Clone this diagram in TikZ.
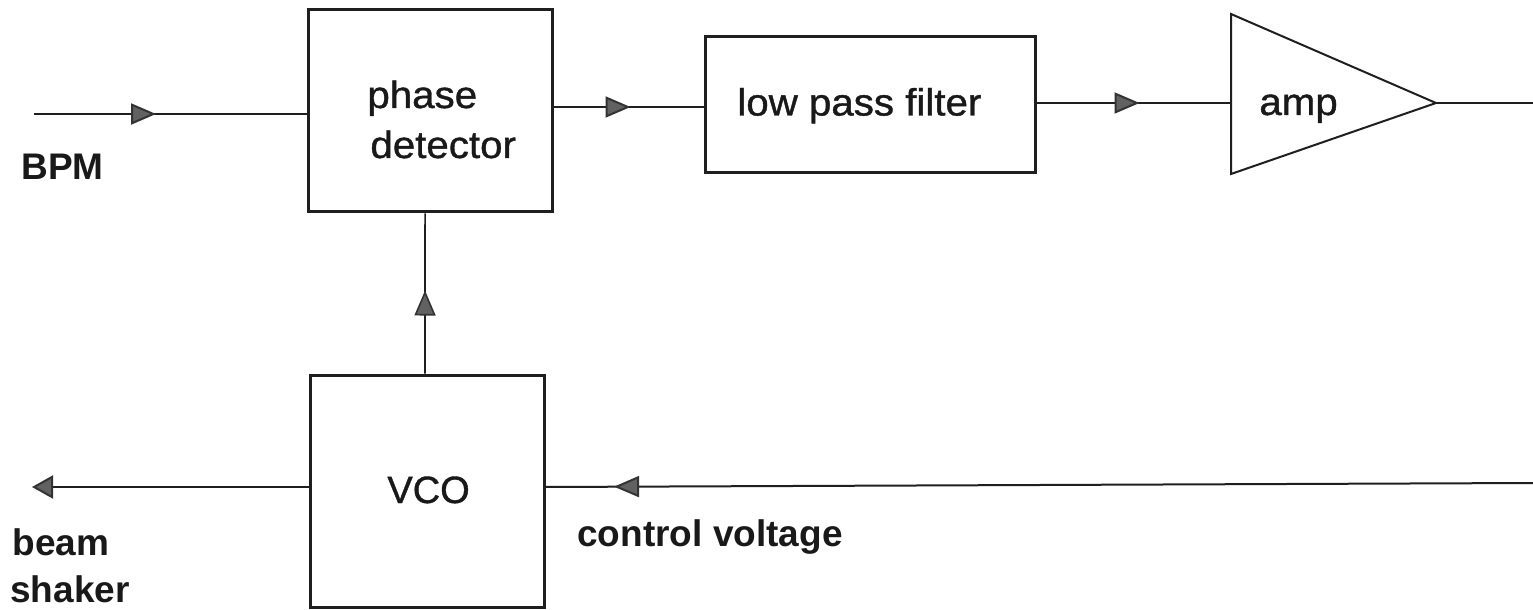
\documentclass[tikz,border=0pt]{standalone}
\usepackage{fontspec}
\setmainfont{Liberation Sans}
\newfontfamily\wfont[FakeStretch=1.06,FakeBold=1]{Liberation Sans}
\newfontfamily\cfont[FakeBold=1]{Liberation Sans}
\usetikzlibrary{arrows.meta,decorations.markings}
\tikzset{
  box/.style={draw=black!88,line width=1.5pt,inner sep=0pt},
  conn/.style={draw=black!88,line width=1pt},
  tritip/.tip={Triangle[length=12.5pt,width=10.5pt,color=black!80,fill=black!62]},
  endtip/.tip={Triangle[length=10.5pt,width=11.5pt,color=black!80,fill=black!62]},
  midarrow/.style={postaction={decorate},decoration={markings,mark=at position #1 with {\arrow{tritip}}}},
  intxt/.style={anchor=base west,inner sep=0pt,font=\wfont\fontsize{19pt}{23pt}\selectfont,text=black!90},
  captxt/.style={anchor=base west,inner sep=0pt,font=\cfont\fontsize{19pt}{23pt}\selectfont,text=black!90},
  extxt/.style={anchor=base west,inner sep=0pt,font=\bfseries\fontsize{18.5pt}{23pt}\selectfont,text=black!90}
}
\begin{document}
\begin{tikzpicture}[x=0.5pt,y=-0.5pt]
\useasboundingbox[fill=white] (0,0) rectangle (1533,610);
% boxes
\node[box,minimum width=121.75pt,minimum height=101pt] (pd) at (430.25,111) {};
\node[box,minimum width=165pt,minimum height=68pt] (lpf) at (870,105) {};
\node[box,minimum width=117pt,minimum height=116pt] (vco) at (427,491) {};
% amplifier triangle
\coordinate (ampT) at (1231,14);
\coordinate (ampB) at (1231,174);
\coordinate (ampO) at (1436,103);
\coordinate (ampI) at (1231,103);
\draw[draw=black!88,line width=1pt,line join=miter] (ampT) -- (ampO) -- (ampB) -- cycle;
% texts
\node[intxt] (tphase) at (367,108) {phase};
\node[intxt] (tdet) at (370,158) {detector};
\node[intxt] (tlpf) at (737,115.5) {low pass filter};
\node[intxt] (tamp) at (1259,115) {amp};
\node[captxt] (tvco) at (387,503) {VCO};
\node[extxt] (tbpm) at (21,180) {BPM};
\node[extxt] (tcv) at (577,546) {control voltage};
\node[extxt] (tbeam) at (12,555) {beam};
\node[extxt] (tshk) at (10,602) {shaker};
% free ends
\coordinate (bpmin) at (34,114);
\coordinate (outR) at (1533,103);
\coordinate (cin) at (1533,483);
\coordinate (bsh) at (32,487);
% connectors
\draw[conn,midarrow=61pt] (bpmin) -- ([yshift=-1.5pt]pd.west);
\draw[conn,midarrow=38.5pt] ([yshift=2pt]pd.east) -- ([yshift=-1pt]lpf.west);
\draw[conn,midarrow=51.5pt] ([yshift=1pt]lpf.east) -- (ampI);
\draw[conn] (ampO) -- (outR);
\draw[conn,line width=0.8pt,midarrow=41.5pt] ([xshift=-1pt]vco.north) -- ([xshift=-2.6pt]pd.south);
\draw[conn,-endtip] ([yshift=2pt]vco.west) -- (bsh);
\draw[conn,midarrow=459.5pt] (cin) -- ([yshift=2pt]vco.east);
\end{tikzpicture}
\end{document}
